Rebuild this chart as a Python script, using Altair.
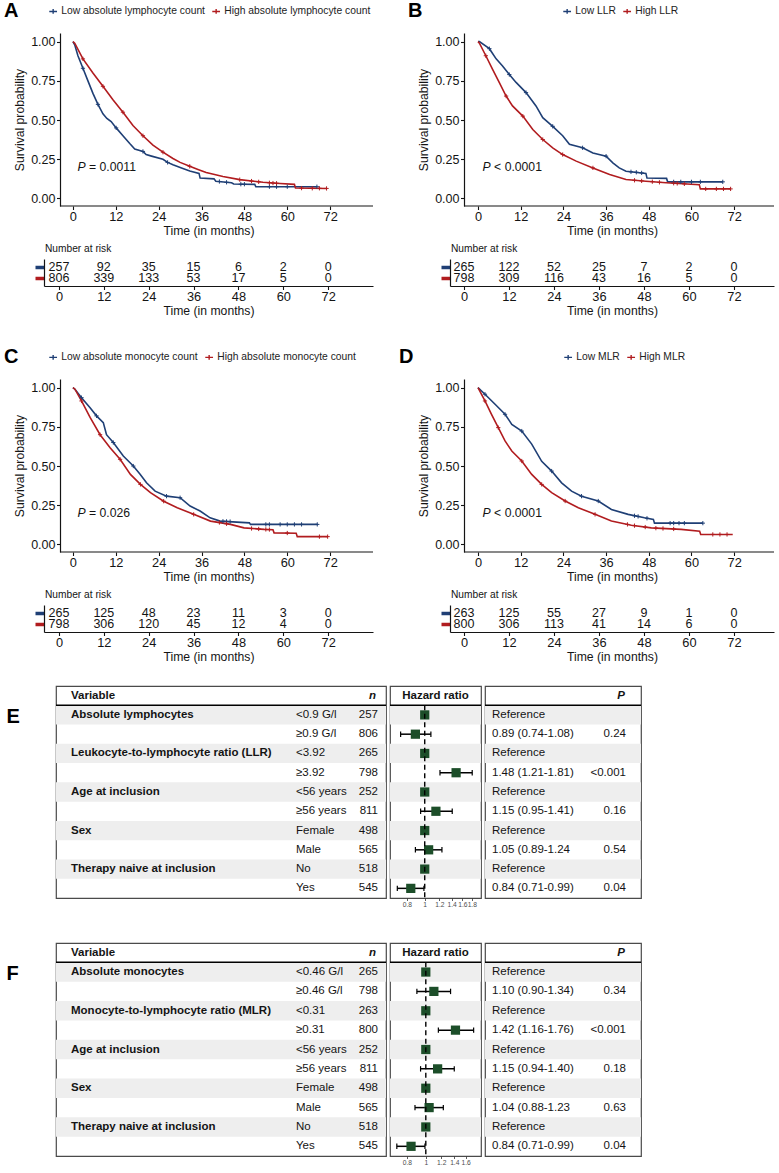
import altair as alt
import pandas as pd

FONT = "Liberation Sans"
INK = "#141414"
BLUE = "#1f3f75"
RED = "#b11c1f"
GREEN = "#1c4e29"
BAND = "#eeeeee"
BORDER = "#4a4a4a"

MONTHS = [0, 12, 24, 36, 48, 60, 72]
SURV_TICKS = [0, 0.25, 0.5, 0.75, 1.0]
KM_Y = [-0.048, 1.055]

# ---------------- Panel A: absolute lymphocyte count ----------------
A_LABELS = ["Low absolute lymphocyte count", "High absolute lymphocyte count"]
A_LOW_T = [0, 0.5, 1.4, 2.8, 4.2, 5.6, 7.0, 8.4, 9.5, 10.7, 12.1, 14.0, 15.9, 17.3, 19.6, 20.5,
           22, 25.2, 26.5, 28, 30.4, 32.7, 35.3, 35.6, 39.5, 40, 44.4, 45, 50.9, 51.2, 68.3]
A_LOW_S = [1, 0.98, 0.91, 0.83, 0.75, 0.67, 0.60, 0.54, 0.51, 0.49, 0.45, 0.40, 0.35, 0.315, 0.30, 0.28,
           0.27, 0.25, 0.23, 0.215, 0.195, 0.175, 0.16, 0.13, 0.125, 0.11, 0.10, 0.092, 0.09, 0.075, 0.075]
A_HIGH_T = [0, 0.5, 2.8, 5.6, 8.4, 11.2, 14, 16.8, 19.6, 22.4, 25.2, 28, 30, 32.7, 35, 37.3, 42,
            46.7, 53.2, 58, 62, 62.3, 71]
A_HIGH_S = [1, 0.99, 0.89, 0.80, 0.715, 0.63, 0.55, 0.465, 0.40, 0.34, 0.295, 0.255, 0.23, 0.205, 0.185,
            0.165, 0.14, 0.12, 0.103, 0.095, 0.09, 0.067, 0.064]
A_LOW_CT = [2.8, 7.0, 12.1, 19.6, 26.5, 41, 43, 47, 48, 55, 57, 60, 68.3]
A_LOW_CS = [0.83, 0.60, 0.45, 0.30, 0.23, 0.108, 0.103, 0.091, 0.091, 0.075, 0.075, 0.075, 0.075]
A_HIGH_CT = [2.8, 8.4, 14, 19.6, 25.2, 32.7, 46.7, 50, 52, 55, 56, 57, 64, 67, 69, 71]
A_HIGH_CS = [0.89, 0.715, 0.55, 0.40, 0.295, 0.205, 0.12, 0.111, 0.106, 0.10, 0.098, 0.097, 0.066,
             0.065, 0.065, 0.064]
A_RISK_LOW = [257, 92, 35, 15, 6, 2, 0]
A_RISK_HIGH = [806, 339, 133, 53, 17, 5, 0]

# ---------------- Panel B: leukocyte-to-lymphocyte ratio ----------------
B_LABELS = ["Low LLR", "High LLR"]
B_LOW_T = [0, 0.4, 3.2, 5.1, 6.9, 8.8, 10.7, 13.5, 16.3, 18.2, 21, 23.8, 25.7, 29.4, 32.3, 36, 37.9,
           39.7, 41.6, 47.2, 47.5, 53, 53.3, 68.8]
B_LOW_S = [1, 1.0, 0.955, 0.89, 0.845, 0.79, 0.74, 0.675, 0.59, 0.515, 0.46, 0.40, 0.345, 0.323, 0.29,
           0.27, 0.227, 0.195, 0.174, 0.16, 0.13, 0.128, 0.106, 0.106]
B_HIGH_T = [0, 0.4, 2.2, 4.1, 6.0, 7.9, 9.7, 12.6, 15.4, 18.2, 21, 23.8, 27.6, 32.3, 37, 41.6, 47.2,
            52.9, 62.2, 62.5, 71]
B_HIGH_S = [1, 0.99, 0.91, 0.823, 0.738, 0.653, 0.59, 0.525, 0.44, 0.376, 0.323, 0.28, 0.238, 0.195,
            0.153, 0.121, 0.11, 0.10, 0.088, 0.061, 0.061]
B_LOW_CT = [3.2, 8.8, 13.5, 21, 29.4, 36, 43, 44.5, 46, 55, 57, 60, 62.5, 68.8]
B_LOW_CS = [0.955, 0.79, 0.675, 0.46, 0.323, 0.27, 0.17, 0.167, 0.163, 0.106, 0.106, 0.106, 0.106, 0.106]
B_HIGH_CT = [2.2, 7.9, 12.6, 18.2, 23.8, 32.3, 44, 46, 49, 51, 55, 56, 58, 64, 67, 69, 71]
B_HIGH_CS = [0.91, 0.653, 0.525, 0.376, 0.28, 0.195, 0.116, 0.112, 0.107, 0.103, 0.097, 0.096, 0.093,
             0.061, 0.061, 0.061, 0.061]
B_RISK_LOW = [265, 122, 52, 25, 7, 2, 0]
B_RISK_HIGH = [798, 309, 116, 43, 16, 5, 0]

# ---------------- Panel C: absolute monocyte count ----------------
C_LABELS = ["Low absolute monocyte count", "High absolute monocyte count"]
C_LOW_T = [0, 0.56, 2.4, 4.8, 6.6, 8.5, 9.4, 11.3, 14.1, 16.9, 18.8, 20.6, 23, 26.2, 30, 32.8, 35.6,
           38.4, 41.2, 49.4, 49.7, 68.4]
C_LOW_S = [1, 0.99, 0.936, 0.872, 0.82, 0.777, 0.70, 0.65, 0.564, 0.50, 0.447, 0.393, 0.34, 0.308,
           0.298, 0.245, 0.213, 0.17, 0.149, 0.138, 0.128, 0.128]
C_HIGH_T = [0, 0.56, 2.4, 4.8, 7.6, 10.4, 13.2, 16.1, 18.9, 21.7, 25.4, 29.2, 33.8, 38.5, 44.1, 47.9,
            53.5, 56, 56.3, 62.5, 62.8, 71.3]
C_HIGH_S = [1, 0.99, 0.915, 0.81, 0.70, 0.617, 0.543, 0.447, 0.383, 0.33, 0.276, 0.234, 0.192, 0.149,
            0.128, 0.106, 0.096, 0.094, 0.074, 0.072, 0.05, 0.05]
C_LOW_CT = [2.4, 6.6, 11.3, 16.9, 26.2, 30, 42, 43, 44, 54, 55, 58, 60, 62, 64, 68.4]
C_LOW_CS = [0.936, 0.82, 0.65, 0.50, 0.308, 0.298, 0.148, 0.147, 0.146, 0.128, 0.128, 0.128, 0.128,
            0.128, 0.128, 0.128]
C_HIGH_CT = [2.4, 7.6, 13.2, 18.9, 25.4, 33.8, 41, 43, 50, 52, 54, 55, 60, 69, 71.3]
C_HIGH_CS = [0.915, 0.70, 0.543, 0.383, 0.276, 0.192, 0.14, 0.132, 0.102, 0.099, 0.096, 0.095, 0.073,
             0.05, 0.05]
C_RISK_LOW = [265, 125, 48, 23, 11, 3, 0]
C_RISK_HIGH = [798, 306, 120, 45, 12, 4, 0]

# ---------------- Panel D: monocyte-to-lymphocyte ratio ----------------
D_LABELS = ["Low MLR", "High MLR"]
D_LOW_T = [0, 1.96, 4.8, 7.6, 9.5, 12.3, 15.1, 17.9, 20.7, 23.5, 26.3, 29.1, 33.8, 37.5, 42.2, 46.8,
           49.3, 49.6, 63.2]
D_LOW_S = [1, 0.958, 0.894, 0.83, 0.766, 0.723, 0.64, 0.53, 0.468, 0.393, 0.34, 0.308, 0.277, 0.223,
           0.192, 0.17, 0.16, 0.136, 0.136]
D_HIGH_T = [0, 1.96, 3.8, 5.7, 7.6, 9.5, 12.3, 15.1, 17.9, 20.7, 24.5, 28.2, 32.9, 37.5, 43.1, 48.7,
            57.1, 62.3, 62.6, 71.6]
D_HIGH_S = [1, 0.915, 0.83, 0.745, 0.66, 0.596, 0.532, 0.447, 0.383, 0.33, 0.277, 0.234, 0.192, 0.149,
            0.123, 0.106, 0.096, 0.085, 0.064, 0.064]
D_LOW_CT = [1.96, 7.6, 12.3, 20.7, 29.1, 33.8, 44, 45, 47.5, 54, 55, 56.5, 58, 63.2]
D_LOW_CS = [0.958, 0.83, 0.723, 0.468, 0.308, 0.277, 0.183, 0.179, 0.167, 0.136, 0.136, 0.136, 0.136,
            0.136]
D_HIGH_CT = [1.96, 5.7, 12.3, 17.9, 24.5, 32.9, 42, 44, 47, 50, 52, 55, 66, 68, 70]
D_HIGH_CS = [0.915, 0.745, 0.532, 0.383, 0.277, 0.192, 0.128, 0.12, 0.111, 0.104, 0.102, 0.099, 0.064,
             0.064, 0.064]
D_RISK_LOW = [263, 125, 55, 27, 9, 1, 0]
D_RISK_HIGH = [800, 306, 113, 41, 14, 6, 0]

# ---------------- Panel E: Cox model with lymphocytes / LLR ----------------
E_VARIABLES = ["Absolute lymphocytes", "", "Leukocyte-to-lymphocyte ratio (LLR)", "",
               "Age at inclusion", "", "Sex", "", "Therapy naive at inclusion", ""]
E_GROUPS = ["<0.9 G/l", "≥0.9 G/l", "<3.92", "≥3.92", "<56 years", "≥56 years",
            "Female", "Male", "No", "Yes"]
E_N = [257, 806, 265, 798, 252, 811, 498, 565, 518, 545]
E_HR = [1, 0.89, 1, 1.48, 1, 1.15, 1, 1.05, 1, 0.84]
E_LO = [None, 0.74, None, 1.21, None, 0.95, None, 0.89, None, 0.71]
E_HI = [None, 1.08, None, 1.81, None, 1.41, None, 1.24, None, 0.99]
E_HR_TEXT = ["Reference", "0.89 (0.74-1.08)", "Reference", "1.48 (1.21-1.81)", "Reference",
             "1.15 (0.95-1.41)", "Reference", "1.05 (0.89-1.24", "Reference", "0.84 (0.71-0.99)"]
E_P = ["", "0.24", "", "<0.001", "", "0.16", "", "0.54", "", "0.04"]
E_TICKS = [0.8, 1, 1.2, 1.4, 1.6, 1.8]

# ---------------- Panel F: Cox model with monocytes / MLR ----------------
F_VARIABLES = ["Absolute monocytes", "", "Monocyte-to-lymphocyte ratio (MLR)", "",
               "Age at inclusion", "", "Sex", "", "Therapy naive at inclusion", ""]
F_GROUPS = ["<0.46 G/l", "≥0.46 G/l", "<0.31", "≥0.31", "<56 years", "≥56 years",
            "Female", "Male", "No", "Yes"]
F_N = [265, 798, 263, 800, 252, 811, 498, 565, 518, 545]
F_HR = [1, 1.10, 1, 1.42, 1, 1.15, 1, 1.04, 1, 0.84]
F_LO = [None, 0.90, None, 1.16, None, 0.94, None, 0.88, None, 0.71]
F_HI = [None, 1.34, None, 1.76, None, 1.40, None, 1.23, None, 0.99]
F_HR_TEXT = ["Reference", "1.10 (0.90-1.34)", "Reference", "1.42 (1.16-1.76)", "Reference",
             "1.15 (0.94-1.40)", "Reference", "1.04 (0.88-1.23", "Reference", "0.84 (0.71-0.99)"]
F_P = ["", "0.34", "", "<0.001", "", "0.18", "", "0.63", "", "0.04"]
F_TICKS = [0.8, 1, 1.2, 1.4, 1.6]

# ---------------- layout settings ----------------
GEO_LEFT = dict(width=329, km_x=[-8.1, 84.0], risk_x=[-4.0, 84.0], shift=16, letter_dx=-40)
GEO_B = dict(width=324, km_x=[-7.87, 83.2], risk_x=[-3.73, 82.7], shift=14, letter_dx=-42)
GEO_D = dict(GEO_B, letter_dx=-51)
CROSS = "M-1,0H1M0,-1V1"
LEGEND_CROSS = "M-1,0H1M0,-0.6V0.6"


def km_panel(letter, labels, low, high, low_c, high_c, risk_low, risk_high, p_op, p_val, geo, legend_x):
    width = geo["width"]
    km_x = geo["km_x"]
    px_per_month = width / (km_x[1] - km_x[0])
    axis_t = km_x[0] + geo["shift"] / px_per_month

    curves = pd.concat([
        pd.DataFrame({"t": low[0], "s": low[1], "g": labels[0]}),
        pd.DataFrame({"t": high[0], "s": high[1], "g": labels[1]}),
    ], ignore_index=True)
    cens = pd.concat([
        pd.DataFrame({"t": low_c[0], "s": low_c[1], "g": labels[0]}),
        pd.DataFrame({"t": high_c[0], "s": high_c[1], "g": labels[1]}),
    ], ignore_index=True)

    xs = alt.Scale(domain=km_x, nice=False, zero=False)
    ys = alt.Scale(domain=KM_Y, nice=False, zero=False)
    xaxis = alt.Axis(values=MONTHS, title="Time (in months)", domain=False, grid=False,
                     tickColor=INK, tickSize=3.5, tickWidth=1.1, labelFontSize=12.8, labelColor=INK,
                     titleFontSize=12.2, titleColor=INK, titleFontWeight="normal",
                     labelPadding=1, titlePadding=1, labelFlush=False, labelOverlap=False)
    yaxis = alt.Axis(values=SURV_TICKS, format=".2f", title="Survival probability", grid=False,
                     offset=-geo["shift"], domainColor=INK, domainWidth=1.2, tickColor=INK,
                     tickSize=3.5, tickWidth=1.1, labelFontSize=12.5, labelColor=INK,
                     titleFontSize=12.2, titleColor=INK, titleFontWeight="normal",
                     labelPadding=1.5, titlePadding=4, labelFlush=False)
    color = alt.Color("g:N", scale=alt.Scale(domain=labels, range=[BLUE, RED]),
                      legend=alt.Legend(title=None, orient="none", legendX=legend_x, legendY=-27,
                                        direction="horizontal", symbolType=LEGEND_CROSS,
                                        symbolSize=60, symbolStrokeWidth=1.4, labelFontSize=10.3,
                                        labelFont=FONT, labelColor="#222222", columnPadding=4,
                                        labelOffset=3, labelLimit=0, padding=0))

    baseline = alt.Chart(pd.DataFrame({"t0": [axis_t], "t1": [km_x[1]], "s": [KM_Y[0]]})).mark_rule(
        color=INK, strokeWidth=1.2
    ).encode(x=alt.X("t0:Q", scale=xs, axis=xaxis), x2="t1:Q", y=alt.Y("s:Q", scale=ys, axis=yaxis))

    lines = alt.Chart(curves).mark_line(strokeWidth=1.6).encode(
        x=alt.X("t:Q", scale=xs, axis=xaxis), y=alt.Y("s:Q", scale=ys, axis=yaxis), color=color)
    marks = alt.Chart(cens).mark_point(shape=CROSS, size=18, filled=False, strokeWidth=1, opacity=1).encode(
        x=alt.X("t:Q", scale=xs, axis=xaxis), y=alt.Y("s:Q", scale=ys, axis=yaxis), color=color)

    pdf = pd.DataFrame({"t": [1.3], "s": [0.2]})
    p1 = alt.Chart(pdf).mark_text(text="P", align="left", baseline="middle", fontSize=12.2,
                                  fontStyle="italic", font=FONT, color=INK).encode(
        x=alt.X("t:Q", scale=xs, axis=xaxis), y=alt.Y("s:Q", scale=ys, axis=yaxis))
    p2 = alt.Chart(pdf).mark_text(text=f"{p_op} {p_val}", align="left", baseline="middle", dx=11.5,
                                  fontSize=12.2, font=FONT, color=INK).encode(
        x=alt.X("t:Q", scale=xs, axis=xaxis), y=alt.Y("s:Q", scale=ys, axis=yaxis))

    km = alt.layer(baseline, lines, marks, p1, p2).properties(
        width=width, height=173,
        title=alt.TitleParams(letter, anchor="start", frame="group", dx=geo["letter_dx"], fontSize=20,
                              fontWeight="bold", font=FONT, color="black", offset=-15),
    )

    risk_df = pd.DataFrame({"t": MONTHS * 2, "n": risk_low + risk_high,
                            "g": ["low"] * 7 + ["high"] * 7})
    risk = alt.Chart(risk_df).mark_text(fontSize=12.5, font=FONT, color=INK, baseline="middle").encode(
        x=alt.X("t:Q", scale=alt.Scale(domain=geo["risk_x"], nice=False, zero=False),
                axis=alt.Axis(values=MONTHS, title="Time (in months)", grid=False, domainColor=INK,
                              domainWidth=1.2, tickColor=INK, tickSize=3.5, tickWidth=1.1,
                              labelFontSize=12.8, labelColor=INK, titleFontSize=12.2, titleColor=INK,
                              titleFontWeight="normal", labelPadding=1, titlePadding=1,
                              labelFlush=False, labelOverlap=False)),
        y=alt.Y("g:N", scale=alt.Scale(type="point", domain=["low", "high"], padding=0.65),
                axis=alt.Axis(labels=False, title=None, grid=False, domainColor=INK, domainWidth=1.2,
                              tickSize=9, tickWidth=3.5,
                              tickColor={"condition": {"test": "datum.value === 'low'", "value": BLUE},
                                         "value": RED})),
        text="n:Q",
    ).properties(width=width, height=27,
                 title=alt.TitleParams("Number at risk", anchor="start", frame="group", fontSize=10.2,
                                       fontWeight="normal", font=FONT, color=INK, offset=5, dx=1))

    return alt.vconcat(km, risk, spacing=6).resolve_scale(color="independent").resolve_legend(
        color="independent")


GUTTER_W, LEFT_W, MID_W, RIGHT_W = 9, 330, 91, 156


def forest(letter, variables, groups, ns, hr, lo, hi, hr_text, p_text, ticks, hr_domain, height, letter_y):
    rows = list(range(1, 11))
    df = pd.DataFrame(dict(row=rows, variable=variables, group=groups, n=ns, hr=hr, lo=lo, hi=hi,
                           hr_text=hr_text, p=p_text))
    df["mid"] = df["row"] + 0.5
    df["bottom"] = df["row"] + 1
    df["cap_top"] = df["mid"] - 0.14
    df["cap_bot"] = df["mid"] + 0.14
    shaded = df[df["row"] % 2 == 1]
    ci = df.dropna(subset=["lo"])
    named = df[df["variable"] != ""]
    tested = df[df["p"] != ""]
    head = pd.DataFrame({"mid": [0.5], "line": [1.0], "last": [11.0], "one": [1.0]})

    ys = alt.Scale(domain=[0, 11], reverse=True, nice=False, zero=False)
    letter_axis = alt.Axis(title=letter, labels=False, ticks=False, domain=False, grid=False,
                           titleAngle=0, titleAlign="left", titleBaseline="alphabetic",
                           titleX=-38, titleY=letter_y, titleFontSize=20, titleFontWeight="bold",
                           titleColor="black", titleFont=FONT)
    txt = dict(fontSize=11.5, font=FONT, color=INK, baseline="middle")
    view = alt.ViewBackground(stroke=BORDER, strokeWidth=1.2)

    def Y(field, axis):
        return alt.Y(f"{field}:Q", scale=ys, axis=axis)

    def bands(w, axis):
        return alt.Chart(shaded).mark_rect(color=BAND).encode(
            y=Y("row", axis), y2="bottom:Q", x=alt.value(0), x2=alt.value(w))

    def head_rule(w, axis):
        return alt.Chart(head).mark_rule(color="black", strokeWidth=1.5).encode(
            y=Y("line", axis), x=alt.value(0), x2=alt.value(w))

    # narrow gutter carrying the panel letter
    gutter = alt.Chart(head).mark_rect(opacity=0).encode(
        y=Y("line", letter_axis), y2="last:Q", x=alt.value(0), x2=alt.value(GUTTER_W)
    ).properties(width=GUTTER_W, height=height)

    # left block: variable names, subgroups and counts
    left = alt.layer(
        bands(LEFT_W, None),
        head_rule(LEFT_W, None),
        alt.Chart(head).mark_text(text="Variable", align="left", fontWeight="bold", **txt).encode(
            x=alt.value(15), y=Y("mid", None)),
        alt.Chart(head).mark_text(text="n", align="right", fontWeight="bold", fontStyle="italic",
                                  **txt).encode(x=alt.value(320), y=Y("mid", None)),
        alt.Chart(named).mark_text(align="left", fontWeight="bold", **txt).encode(
            x=alt.value(15), y=Y("mid", None), text="variable:N"),
        alt.Chart(df).mark_text(align="left", **txt).encode(
            x=alt.value(240), y=Y("mid", None), text="group:N"),
        alt.Chart(df).mark_text(align="right", **txt).encode(
            x=alt.value(322), y=Y("mid", None), text="n:Q"),
    ).properties(width=LEFT_W, height=height, view=view)

    # middle block: hazard ratio forest
    xs = alt.Scale(type="log", domain=hr_domain, nice=False, zero=False)
    xax = alt.Axis(values=ticks, title=None, domain=False, grid=False, tickSize=2.5, tickColor="#333333",
                   tickWidth=0.8, labelFontSize=6.7, labelColor="#4d4d4d", labelPadding=1, format="~g",
                   labelFlush=False, labelOverlap=False, labelFont=FONT)
    mid = alt.layer(
        bands(MID_W, None),
        alt.Chart(ci).mark_rule(color="black", strokeWidth=1.5).encode(
            x=alt.X("lo:Q", scale=xs, axis=xax), x2="hi:Q", y=Y("mid", None)),
        alt.Chart(ci).mark_rule(color="black", strokeWidth=1.2).encode(
            x=alt.X("lo:Q", scale=xs, axis=xax), y=Y("cap_top", None), y2="cap_bot:Q"),
        alt.Chart(ci).mark_rule(color="black", strokeWidth=1.2).encode(
            x=alt.X("hi:Q", scale=xs, axis=xax), y=Y("cap_top", None), y2="cap_bot:Q"),
        alt.Chart(df).mark_square(size=85, color=GREEN, opacity=1).encode(
            x=alt.X("hr:Q", scale=xs, axis=xax), y=Y("mid", None)),
        alt.Chart(head).mark_rule(color="black", strokeWidth=1.4, strokeDash=[5, 3.5]).encode(
            x=alt.X("one:Q", scale=xs, axis=xax), y=Y("line", None), y2="last:Q"),
        head_rule(MID_W, None),
        alt.Chart(head).mark_text(text="Hazard ratio", align="center", fontWeight="bold", **txt).encode(
            x=alt.value(MID_W / 2), y=Y("mid", None)),
    ).properties(width=MID_W, height=height, view=view)

    # right block: estimates and p values
    right = alt.layer(
        bands(RIGHT_W, None),
        head_rule(RIGHT_W, None),
        alt.Chart(head).mark_text(text="P", align="right", fontWeight="bold", fontStyle="italic",
                                  **txt).encode(x=alt.value(140), y=Y("mid", None)),
        alt.Chart(df).mark_text(align="left", **txt).encode(
            x=alt.value(7), y=Y("mid", None), text="hr_text:N"),
        alt.Chart(tested).mark_text(align="right", **txt).encode(
            x=alt.value(141), y=Y("mid", None), text="p:N"),
    ).properties(width=RIGHT_W, height=height, view=view)

    return alt.hconcat(gutter, left, mid, right, spacing=0)


def indep(c):
    return c.resolve_scale(color="independent").resolve_legend(color="independent")


panel_a = km_panel("A", A_LABELS, (A_LOW_T, A_LOW_S), (A_HIGH_T, A_HIGH_S), (A_LOW_CT, A_LOW_CS),
                   (A_HIGH_CT, A_HIGH_CS), A_RISK_LOW, A_RISK_HIGH, "=", "0.0011", GEO_LEFT, 4)
panel_b = km_panel("B", B_LABELS, (B_LOW_T, B_LOW_S), (B_HIGH_T, B_HIGH_S), (B_LOW_CT, B_LOW_CS),
                   (B_HIGH_CT, B_HIGH_CS), B_RISK_LOW, B_RISK_HIGH, "<", "0.0001", GEO_B, 112)
panel_c = km_panel("C", C_LABELS, (C_LOW_T, C_LOW_S), (C_HIGH_T, C_HIGH_S), (C_LOW_CT, C_LOW_CS),
                   (C_HIGH_CT, C_HIGH_CS), C_RISK_LOW, C_RISK_HIGH, "=", "0.026", GEO_LEFT, 4)
panel_d = km_panel("D", D_LABELS, (D_LOW_T, D_LOW_S), (D_HIGH_T, D_HIGH_S), (D_LOW_CT, D_LOW_CS),
                   (D_HIGH_CT, D_HIGH_CS), D_RISK_LOW, D_RISK_HIGH, "<", "0.0001", GEO_D, 113)

forest_e = forest("E", E_VARIABLES, E_GROUPS, E_N, E_HR, E_LO, E_HI, E_HR_TEXT, E_P, E_TICKS,
                  [0.648, 2.02], 212, 36)
forest_f = forest("F", F_VARIABLES, F_GROUPS, F_N, F_HR, F_LO, F_HI, F_HR_TEXT, F_P, F_TICKS,
                  [0.655, 1.92], 213, 36)

row1 = indep(alt.hconcat(panel_a, panel_b, spacing=32))
row2 = indep(alt.hconcat(panel_c, panel_d, spacing=23))
survival = indep(alt.vconcat(row1, row2, spacing=29))
cox = alt.vconcat(forest_e, forest_f, spacing=33)

chart = indep(alt.vconcat(survival, cox, spacing=22)).properties(
    padding={"left": 3, "top": 0, "right": 0, "bottom": 0}
).configure(font=FONT, background="white").configure_view(stroke="transparent")

chart.save("out.html", embed_options={"renderer": "svg", "actions": False})
